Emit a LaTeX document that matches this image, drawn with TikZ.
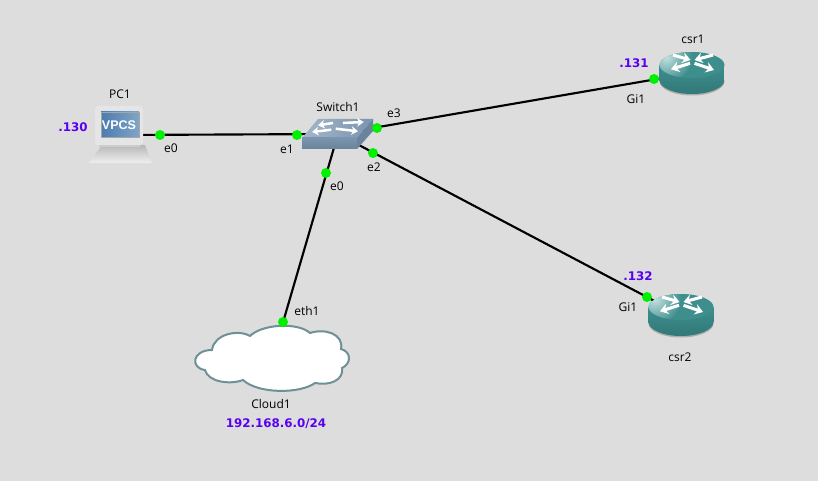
\documentclass[tikz,border=0pt]{standalone}
\usepackage{fontspec}
\setmainfont{Open Sans}
\newfontfamily\boldlabelfont{DejaVu Sans Bold}
\newfontfamily\screenfont{Liberation Sans Bold}
\usetikzlibrary{arrows.meta}

\definecolor{canvas}{HTML}{DDDDDD}
\definecolor{routerteal}{HTML}{3E8E8E}
\definecolor{routerdark}{HTML}{327878}
\definecolor{routerlight}{HTML}{C4E0E0}
\definecolor{switchblue}{HTML}{7A94AE}
\definecolor{switchdark}{HTML}{6A849E}
\definecolor{switchlight}{HTML}{A3B6C8}
\definecolor{screenblue}{HTML}{4A7DB0}
\definecolor{cloudline}{HTML}{6F9096}
\definecolor{portgreen}{HTML}{00F000}
\definecolor{ipviolet}{HTML}{5A00F0}

\tikzset{
  link/.style={draw=black, line width=1.6pt},
  port/.style={circle, fill=portgreen, inner sep=0pt, minimum size=7.5pt},
  label/.style={font=\fontsize{9}{11}\selectfont, inner sep=0pt, text=black},
  iplabel/.style={font=\fontsize{8.9}{11}\boldlabelfont, inner sep=0pt, text=ipviolet},
  anchorpt/.style={inner sep=0pt, minimum size=0pt},
  whitearrow/.style={draw=white, line width=2.3pt, -{Stealth[length=6pt,width=8pt]}},
  swarrow/.style={draw=white, line width=1.9pt, -{Stealth[length=5pt,width=6.5pt]}},
  routericon/.pic={
    % shadow
    \fill[black!32] (0,8.5) ellipse [x radius=32.5, y radius=14];
    % body
    \path[top color=routerteal, bottom color=routerdark]
      (-32.5,-8) -- (-32.5,7) arc[start angle=180, end angle=0, x radius=32.5, y radius=14] -- (32.5,-8) -- cycle;
    % top
    \fill[routerteal] (0,-8) ellipse [x radius=32.5, y radius=13];
    \begin{scope}
      \clip (0,-8) ellipse [x radius=32.5, y radius=13];
      \shade[inner color=routerlight, outer color=routerteal] (-26,-16) circle (26);
    \end{scope}
    \draw[whitearrow] (-19,-18) -- (-1.5,-13);
    \draw[whitearrow] (21,-18) -- (2.5,-13);
    \draw[whitearrow] (-2,-9.7) -- (-21,-3.7);
    \draw[whitearrow] (2.5,-9.7) -- (22,-3);
  },
  switchicon/.pic={
    % top
    \path[left color=switchlight, right color=switchblue]
      (-36,4) -- (-20,-15) -- (35,-15) -- (19,4) -- cycle;
    % front and side
    \path[top color=switchblue, bottom color=switchdark]
      (-36,4) -- (19,4) -- (19,15) -- (-36,15) -- cycle;
    \fill[switchdark] (19,4) -- (35,-15) -- (35,-3) -- (19,15) -- cycle;
    \draw[swarrow] (-5,-11) -- (-20,-8.7);
    \draw[swarrow] (5,-11) -- (25.7,-12);
    \draw[swarrow] (-6.7,-4.3) -- (-26,-2);
    \draw[swarrow] (-2.3,-5.3) -- (20,-2.7);
  },
  pcicon/.pic={
    % keyboard base
    \path[top color=black!28, bottom color=white!94!black]
      (-18,10) -- (25,10) -- (32,28) -- (-31,28) -- cycle;
    % monitor
    \fill[white!90!black, rounded corners=2pt] (-25,-29) rectangle (23,10);
    \fill[black!20] (-21,10) rectangle (20,12);
    % screen
    \fill[left color=screenblue, right color=screenblue!70!white] (-19,-23) rectangle (19,2);
    \draw[white!65!black, line width=.5pt] (-19,-23) rectangle (19,2);
  },
}

\begin{document}
\begin{tikzpicture}[x=0.75pt, y=-0.75pt]

% background
\fill[canvas] (0,0) rectangle (818,481);
\useasboundingbox (0,0) rectangle (818,481);

% device centres
\node[anchorpt] (PC1) at (120,135) {};
\node[anchorpt] (Switch1) at (338,134) {};
\node[anchorpt] (csr1) at (692,73) {};
\node[anchorpt] (csr2) at (681,315) {};
\node[anchorpt] (Cloud1) at (272,360) {};

% links
\draw[link] (PC1) -- (Switch1);
\draw[link] (Switch1) -- (Cloud1);
\draw[link] (Switch1) -- (csr1);
\draw[link] (Switch1) -- (csr2);

% devices
\pic at (120,135) {pcicon};
\pic at (338,134) {switchicon};
\pic at (692,73) {routericon};
\pic at (681,315) {routericon};

% cloud
\draw[draw=cloudline, fill=white, line width=1.5pt]
  (212,350) .. controls (214,334) and (238,329) .. (250,336)
  .. controls (262,324) and (298,322) .. (310,333)
  .. controls (325,328) and (344,334) .. (341,349)
  .. controls (352,352) and (351,364) .. (342,368)
  .. controls (344,380) and (330,386) .. (315,383)
  .. controls (300,394) and (258,394) .. (243,380)
  .. controls (230,385) and (208,382) .. (205,370)
  .. controls (190,368) and (192,350) .. (212,350) -- cycle;

% ports
\node[port] (pc1e0) at (160,135) {};
\node[port] (swe1) at (297,135) {};
\node[port] (swe3) at (377,128) {};
\node[port] (swe2) at (373,153) {};
\node[port] (swe0) at (326,173) {};
\node[port] (csr1gi1) at (654,79) {};
\node[port] (csr2gi1) at (647,297) {};
\node[port] (cloudeth1) at (283,322) {};

% device names
\node[label] (namepc1) at (120,94) {PC1};
\node[label] (nameswitch1) at (338,107) {Switch1};
\node[label] (namecsr1) at (693,39) {csr1};
\node[label] (namecsr2) at (680,357) {csr2};
\node[label] (namecloud1) at (271,404) {Cloud1};

% port names
\node[label] (labelpc1e0) at (171,148) {e0};
\node[label] (labelswe1) at (287,149) {e1};
\node[label] (labelswe3) at (394,113) {e3};
\node[label] (labelswe2) at (374,167) {e2};
\node[label] (labelswe0) at (337,186) {e0};
\node[label] (labelcsr1) at (636,99) {Gi1};
\node[label] (labelcsr2) at (628,307) {Gi1};
\node[label] (labeleth1) at (307,311) {eth1};

% addresses
\node[iplabel] (ippc1) at (73,127) {.130};
\node[iplabel] (ipcsr1) at (634,63) {.131};
\node[iplabel] (ipcsr2) at (638,276) {.132};
\node[iplabel] (ipcloud1) at (276,424) {192.168.6.0/24};

% screen text
\node[font=\fontsize{9.4}{11}\screenfont, text=white, inner sep=0pt] (vpcs) at (119,125) {VPCS};

\end{tikzpicture}
\end{document}
